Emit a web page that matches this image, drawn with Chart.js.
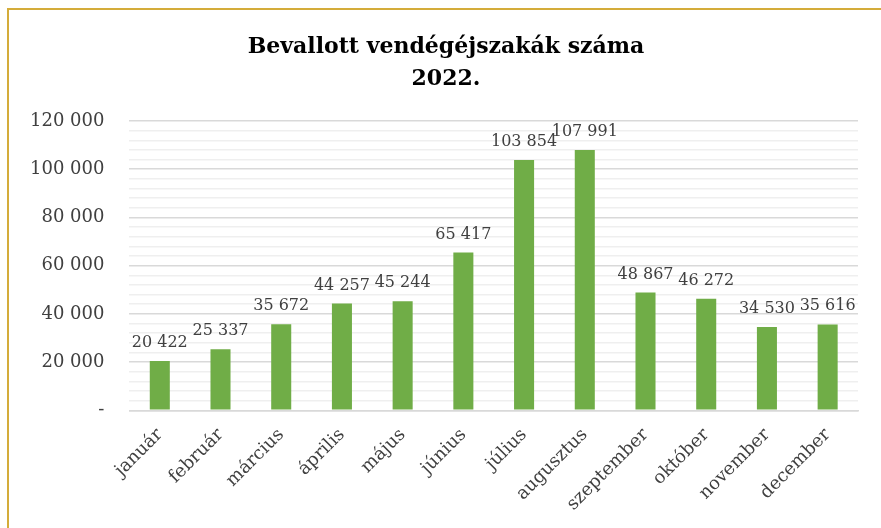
<!DOCTYPE html>
<html>
<head>
<meta charset="utf-8">
<script src="https://cdn.jsdelivr.net/npm/chart.js@4"></script>
<style>
  html, body { margin: 0; padding: 0; background: #fff; }
  #wrap { position: relative; width: 881px; height: 528px; }
  #frame { position: absolute; left: 7px; top: 8px; right: 0; bottom: 0;
           border-top: 2px solid #d4ac3a; border-left: 2px solid #d4ac3a; pointer-events: none; }
</style>
</head>
<body>
<div id="wrap">
  <canvas id="myChart" width="881" height="528"></canvas>
  <div id="frame"></div>
</div>
<script>
const months = ['január', 'február', 'március', 'április', 'május', 'június',
                'július', 'augusztus', 'szeptember', 'október', 'november', 'december'];
const nights = [20422, 25337, 35672, 44257, 45244, 65417, 103854, 107991, 48867, 46272, 34530, 35616];
const yTicks = [0, 20000, 40000, 60000, 80000, 100000, 120000];
const titleLines = ['Bevallott vendégéjszakák száma', '2022.'];

const serif = "'DejaVu Serif', 'Liberation Serif', serif";

function fmt(v) {
    return String(v).replace(/\B(?=(\d{3})+(?!\d))/g, ' ');
}

// value labels above each bar
const barLabels = {
    id: 'barLabels',
    afterDatasetsDraw(chart) {
        const c = chart.ctx;
        const meta = chart.getDatasetMeta(0);
        c.save();
        c.font = '16px ' + serif;
        c.fillStyle = '#404040';
        c.textAlign = 'center';
        c.textBaseline = 'alphabetic';
        meta.data.forEach((bar, i) => {
            c.fillText(fmt(nights[i]), bar.x, bar.y - 14);
        });
        c.restore();
    }
};

// title centred on the frame, not on the padded chart box
const frameTitle = {
    id: 'frameTitle',
    afterDraw(chart) {
        const c = chart.ctx;
        c.save();
        c.font = 'bold 22px ' + serif;
        c.fillStyle = '#000';
        c.textAlign = 'center';
        c.textBaseline = 'middle';
        titleLines.forEach((t, i) => c.fillText(t, 446, 47 + i * 32));
        c.restore();
    }
};

const ctx = document.getElementById('myChart').getContext('2d');
const myChart = new Chart(ctx, {
    type: 'bar',
    data: {
        labels: months,
        datasets: [{
            label: 'Vendégéjszakák',
            data: nights,
            backgroundColor: '#70ad47',
            barPercentage: 0.33,
            categoryPercentage: 1
        }]
    },
    options: {
        responsive: false,
        animation: false,
        layout: { padding: { left: 5, right: 23, top: 121, bottom: 7 } },
        plugins: {
            legend: { display: false },
            tooltip: { enabled: false },
            title: { display: false }
        },
        scales: {
            x: {
                grid: { display: false },
                border: { display: true, color: '#d9d9d9', width: 1.5 },
                afterFit: (s) => { s.paddingLeft = 0; },
                ticks: {
                    color: '#404040',
                    font: { family: serif, size: 18 },
                    minRotation: 45,
                    maxRotation: 45,
                    padding: 6
                }
            },
            y: {
                min: 0,
                max: 120000,
                border: { display: false },
                grid: {
                    drawTicks: false,
                    color: (c) => (c.tick && c.tick.value % 20000 === 0) ? '#d9d9d9' : '#efefef',
                    lineWidth: 1.5
                },
                afterBuildTicks: (axis) => {
                    const t = [];
                    for (let v = 0; v <= 120000; v += 4000) t.push({ value: v });
                    axis.ticks = t;
                },
                ticks: {
                    color: '#404040',
                    font: { family: serif, size: 18 },
                    padding: 25,
                    autoSkip: false,
                    callback: (v) => {
                        if (!yTicks.includes(v)) return '';
                        return v === 0 ? '-' : fmt(v);
                    }
                }
            }
        }
    },
    plugins: [barLabels, frameTitle]
});
</script>
</body>
</html>
